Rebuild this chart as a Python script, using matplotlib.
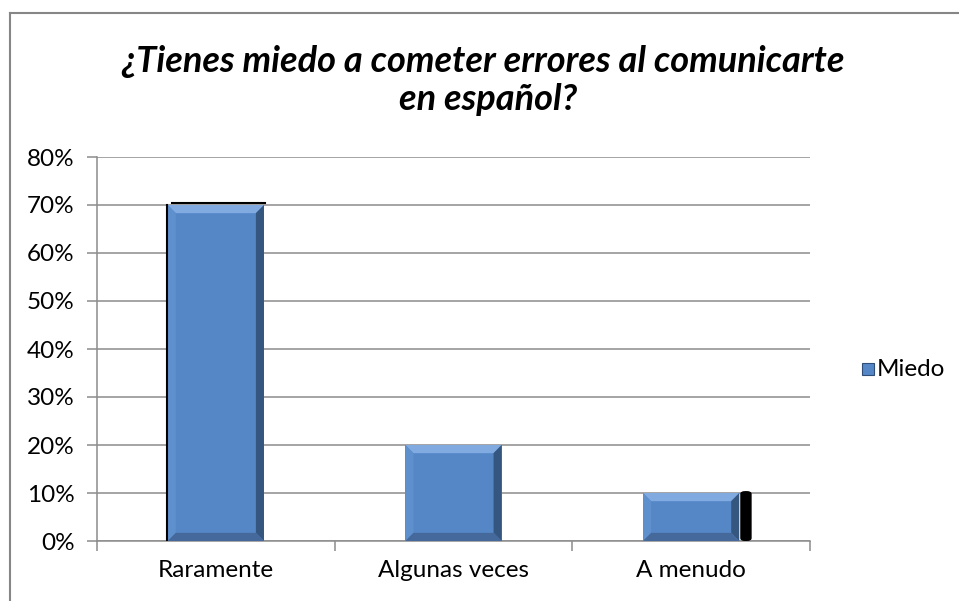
import matplotlib
matplotlib.use("Agg")
import matplotlib.pyplot as plt
from matplotlib.patches import Polygon, Rectangle, FancyBboxPatch
from matplotlib.lines import Line2D
from matplotlib.ticker import MultipleLocator, FuncFormatter

categories = ["Raramente", "Algunas veces", "A menudo"]
miedo = [0.70, 0.20, 0.10]
series_name = "Miedo"
title_lines = ["¿Tienes miedo a cometer errores al comunicarte", "en español?"]

plt.rcParams['font.family'] = ['Lato', 'DejaVu Sans']

fig = plt.figure(figsize=(9.59, 6.01), dpi=100)
ax = fig.add_axes([97/959, 1-541/601, (810-97)/959, (541-157)/601])

ax.set_xlim(-0.5, len(categories)-0.5)
ax.set_ylim(0, 0.8)
ax.yaxis.set_major_locator(MultipleLocator(0.1))
ax.yaxis.set_major_formatter(FuncFormatter(lambda v, p: f"{round(v*100):d}%"))
ax.grid(axis='y', color='#8c8c8c', linewidth=1.1, zorder=0)
ax.set_axisbelow(True)
for s in ['top', 'right']:
    ax.spines[s].set_visible(False)
for s in ['left', 'bottom']:
    ax.spines[s].set_color('#8c8c8c')
    ax.spines[s].set_linewidth(1.1)
ax.tick_params(axis='y', length=7, width=1.1, color='#8c8c8c', labelsize=17.5, pad=9)
ax.set_xticks(range(len(categories)))
ax.set_xticklabels(categories)
ax.tick_params(axis='x', length=0, labelsize=17.5, pad=14)
ax.set_xticks([i+0.5 for i in range(-1, len(categories))], minor=True)
ax.tick_params(axis='x', which='minor', length=7, width=1.1, color='#8c8c8c')

face = '#5587C7'
top_c = '#80AAE0'
left_c = '#5F90CE'
right_c = '#34567F'
bottom_c = '#44699A'

w = 0.405
bx = 0.034   # bevel horizontal (data units)
by = 0.017   # bevel vertical (data units)
for i, v in enumerate(miedo):
    x0, x1 = i - w/2, i + w/2
    ax.add_patch(Rectangle((x0, 0), w, v, facecolor=face, edgecolor='none', zorder=3))
    ax.add_patch(Polygon([(x0, v), (x1, v), (x1-bx, v-by), (x0+bx, v-by)], closed=True,
                         facecolor=top_c, edgecolor='none', zorder=4))
    ax.add_patch(Polygon([(x0, 0), (x0, v), (x0+bx, v-by), (x0+bx, by)], closed=True,
                         facecolor=left_c, edgecolor='none', zorder=4))
    ax.add_patch(Polygon([(x1, 0), (x1, v), (x1-bx, v-by), (x1-bx, by)], closed=True,
                         facecolor=right_c, edgecolor='none', zorder=4))
    ax.add_patch(Polygon([(x0, 0), (x1, 0), (x1-bx, by), (x0+bx, by)], closed=True,
                         facecolor=bottom_c, edgecolor='none', zorder=4))

# rendering artefacts seen in reference
ax.plot([0 - w/2 - 0.005]*2, [0, miedo[0]], color='black', lw=1.5, zorder=5)
ax.plot([0 - w/2 + 0.02, 0 + w/2 + 0.005], [miedo[0] + 0.004]*2, color='black', lw=1.5, zorder=5)
ax.add_patch(FancyBboxPatch((2 + w/2 + 0.004, 0), 0.048, miedo[2] + 0.004,
                            boxstyle="round,pad=0,rounding_size=0.02",
                            mutation_aspect=0.3,
                            facecolor='black', edgecolor='none', zorder=5))

for line, xpx, ypx in zip(title_lines, [483, 488], [72, 110]):
    fig.text(xpx/959, 1-ypx/601, line, ha='center', va='baseline', fontsize=26,
             fontweight='bold', fontstyle='italic')

# legend
fig.patches.append(Rectangle((862/959, 1-375/601), 12/959, 12/601, transform=fig.transFigure,
                             facecolor=face, edgecolor='#2E4E78', lw=0.8))
fig.text(877/959, 1-369/601, series_name, ha='left', va='center', fontsize=17.5)

# chart border (top and left visible)
fig.add_artist(Line2D([10/959, 1], [1-13/601]*2, transform=fig.transFigure, color='#868686', lw=1.5))
fig.add_artist(Line2D([10/959]*2, [0, 1-13/601], transform=fig.transFigure, color='#868686', lw=1.5))

fig.savefig("out.png", dpi=100)
